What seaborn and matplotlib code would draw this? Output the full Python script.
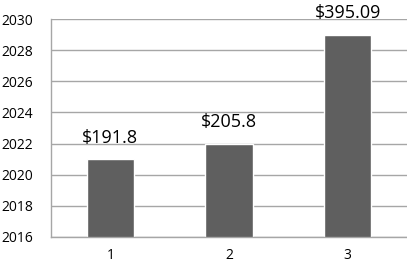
import matplotlib
matplotlib.use("Agg")
import matplotlib.pyplot as plt
import seaborn as sns
import pandas as pd

# data
categories = ["1", "2", "3"]
years = [2021, 2022, 2029]
price_labels = ["$191.8", "$205.8", "$395.09"]

df = pd.DataFrame({"cat": categories, "year": years})

sns.set_style("white")
plt.rcParams["font.family"] = ["Open Sans", "DejaVu Sans"]

fig = plt.figure(figsize=(4.07, 2.65), dpi=100)
ax = fig.add_axes([0.1253, 0.1057, 0.8747, 0.8226])
ax.set_axisbelow(True)

sns.barplot(data=df, x="cat", y="year", color="#5f5f5f", saturation=1,
            width=0.4, ax=ax)

ax.set_ylim(2016, 2030)
ax.set_xlim(-0.5, 2.5)
ax.set_yticks(range(2016, 2031, 2))
ax.yaxis.grid(True, color="#a6a6a6", linewidth=1)
ax.set_xlabel("")
ax.set_ylabel("")
ax.tick_params(axis="both", length=0, labelsize=10, colors="black")
ax.tick_params(axis="y", pad=13)
ax.tick_params(axis="x", pad=8)

for side in ["top", "right"]:
    ax.spines[side].set_visible(False)
for side in ["left", "bottom"]:
    ax.spines[side].set_color("#a6a6a6")
    ax.spines[side].set_linewidth(1)

for i, (y, lab) in enumerate(zip(years, price_labels)):
    ax.annotate(lab, (i, y), xytext=(0, 9), textcoords="offset points",
                ha="center", va="bottom", fontsize=13, color="black",
                annotation_clip=False)

fig.savefig("out.png", dpi=100)
